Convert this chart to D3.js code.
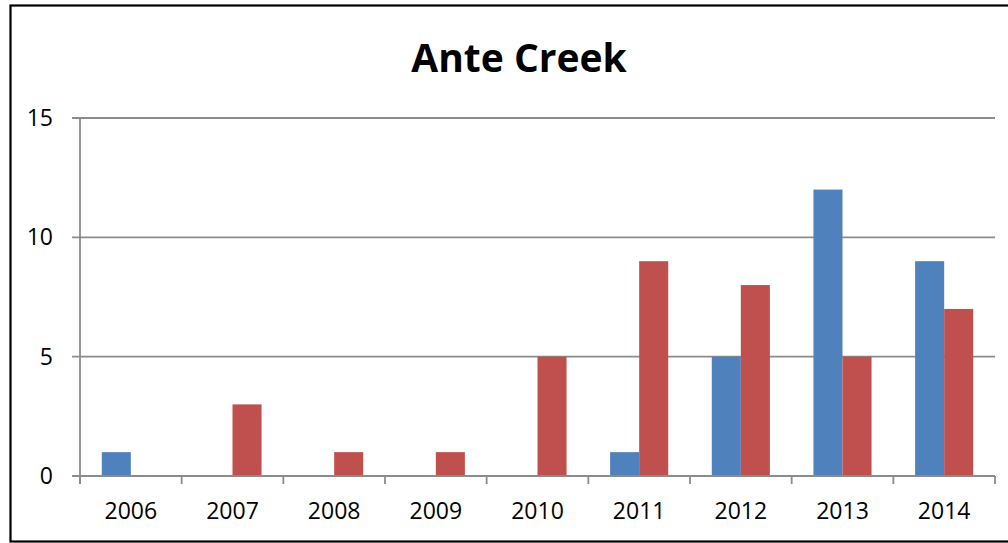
<!DOCTYPE html>
<html>
<head>
    <meta charset="utf-8">
    <script src="https://d3js.org/d3.v7.min.js"></script>
    <style>
        body { margin: 0px; background: #fff; }
        text { font-family: "Open Sans", sans-serif; fill: #000; }
    </style>
</head>
<body>
    <div id="my_dataviz"></div>
    <script>
        // data
        var years = ["2006", "2007", "2008", "2009", "2010", "2011", "2012", "2013", "2014"];
        var blueValues = [1, 0, 0, 0, 0, 1, 5, 12, 9];
        var redValues = [0, 3, 1, 1, 5, 9, 8, 5, 7];
        var yTicks = [0, 5, 10, 15];
        var seriesNames = ["blue", "red"];
        var seriesColors = ["#4f81bd", "#c0504d"];

        var W = 1008, H = 543;
        var margin = { top: 118, right: 13, bottom: 67, left: 80 },
            width = W - margin.left - margin.right,
            height = H - margin.top - margin.bottom;

        var svg = d3.select("#my_dataviz")
            .append("svg")
            .attr("width", W)
            .attr("height", H);

        // outer chart border (right edge runs off the window)
        svg.append("rect")
            .attr("x", 10.5).attr("y", 5.5)
            .attr("width", 1010).attr("height", 536)
            .style("fill", "none").style("stroke", "#000").style("stroke-width", 2.2);

        svg.append("text")
            .attr("x", 519).attr("y", 72)
            .attr("text-anchor", "middle")
            .style("font-size", "39px").style("font-weight", "bold")
            .text("Ante Creek");

        var g = svg.append("g")
            .attr("transform", "translate(" + margin.left + "," + margin.top + ")");

        var x = d3.scaleBand().domain(years).range([0, width]).paddingInner(0).paddingOuter(0);
        // Excel style gap width 150%
        var x1 = d3.scaleBand().domain(seriesNames).range([0, x.bandwidth()]).paddingInner(0).paddingOuter(0.75);
        var y = d3.scaleLinear().domain([0, 15]).range([height, 0]);

        // gridlines
        g.selectAll(".grid")
            .data(yTicks)
            .enter()
            .append("line")
            .attr("x1", -8).attr("x2", width)
            .attr("y1", function (d) { return y(d); })
            .attr("y2", function (d) { return y(d); })
            .style("stroke", "#8c8c8c").style("stroke-width", 1.8);

        // y labels
        g.selectAll(".ylab")
            .data(yTicks)
            .enter()
            .append("text")
            .attr("x", -27)
            .attr("y", function (d) { return y(d); })
            .attr("dy", "0.35em")
            .attr("text-anchor", "end")
            .style("font-size", "23px")
            .text(function (d) { return d; });

        // bars
        var rows = years.map(function (yr, i) { return { year: yr, vals: [blueValues[i], redValues[i]] }; });
        var grp = g.selectAll(".grp")
            .data(rows)
            .enter()
            .append("g")
            .attr("transform", function (d) { return "translate(" + x(d.year) + ",0)"; });
        grp.selectAll("rect")
            .data(function (d) { return d.vals.map(function (v, k) { return { key: seriesNames[k], v: v, c: seriesColors[k] }; }); })
            .enter()
            .append("rect")
            .attr("x", function (d) { return x1(d.key); })
            .attr("width", x1.bandwidth())
            .attr("y", function (d) { return y(d.v); })
            .attr("height", function (d) { return height - y(d.v); })
            .style("fill", function (d) { return d.c; });

        // axes lines over bars
        g.append("line")
            .attr("x1", 0).attr("x2", 0).attr("y1", 0).attr("y2", height + 8)
            .style("stroke", "#8c8c8c").style("stroke-width", 1.8);
        g.append("line")
            .attr("x1", 0).attr("x2", width).attr("y1", height).attr("y2", height)
            .style("stroke", "#8c8c8c").style("stroke-width", 1.8);

        var xTickPos = years.map(function (yr) { return x(yr); }).concat([width]);
        g.selectAll(".xtick")
            .data(xTickPos)
            .enter()
            .append("line")
            .attr("x1", function (d) { return d; }).attr("x2", function (d) { return d; })
            .attr("y1", height).attr("y2", height + 8)
            .style("stroke", "#8c8c8c").style("stroke-width", 1.8);

        g.selectAll(".xlab")
            .data(years)
            .enter()
            .append("text")
            .attr("x", function (d) { return x(d) + x.bandwidth() / 2; })
            .attr("y", height + 43)
            .attr("text-anchor", "middle")
            .style("font-size", "23px")
            .text(function (d) { return d; });
    </script>
</body>
</html>
